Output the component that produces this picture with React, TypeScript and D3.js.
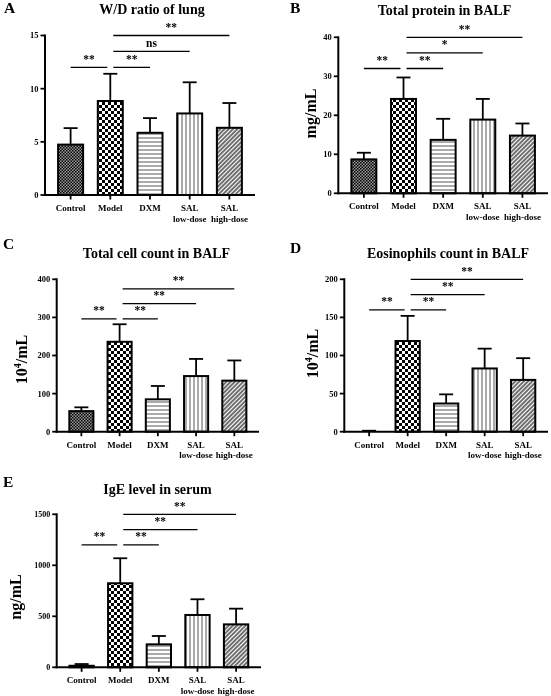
import React from "react";
import * as d3 from "d3";

// ---------- data ----------
const groups = ["Control", "Model", "DXM", "SAL low-dose", "SAL high-dose"];
const groupLabelLines = [["Control"], ["Model"], ["DXM"], ["SAL", "low-dose"], ["SAL", "high-dose"]];
const comparisons: [string, string][] = [
  ["Control", "Model"],
  ["Model", "DXM"],
  ["Model", "SAL low-dose"],
  ["Model", "SAL high-dose"],
];

const wdMean = [4.74, 8.84, 5.85, 7.67, 6.32];
const wdSD = [1.55, 2.56, 1.38, 2.93, 2.33];
const wdTicks = [0, 5, 10, 15];
const wdSigLabels = ["**", "**", "ns", "**"];
const wdSigLevels = [12, 12, 13.5, 15];

const proteinMean = [8.7, 24.2, 13.7, 18.9, 14.8];
const proteinSD = [1.7, 5.5, 5.4, 5.3, 3.1];
const proteinTicks = [0, 10, 20, 30, 40];
const proteinSigLabels = ["**", "**", "*", "**"];
const proteinSigLevels = [32, 32, 36, 40];

const cellMean = [54, 236, 85, 146, 134];
const cellSD = [10, 46, 35, 45, 53];
const cellTicks = [0, 100, 200, 300, 400];
const cellSigLabels = ["**", "**", "**", "**"];
const cellSigLevels = [296, 296, 336, 375];

const eosMean = [0.5, 119, 37, 83, 68];
const eosSD = [0.8, 33, 12, 26, 28.5];
const eosTicks = [0, 50, 100, 150, 200];
const eosSigLabels = ["**", "**", "**", "**"];
const eosSigLevels = [160, 160, 180, 200];

const igeMean = [15, 824, 225, 513, 421];
const igeSD = [17, 245, 82, 154, 154];
const igeTicks = [0, 500, 1000, 1500];
const igeSigLabels = ["**", "**", "**", "**"];
const igeSigLevels = [1200, 1200, 1350, 1500];

const patternIds = ["pat-control", "pat-model", "pat-dxm", "pat-sallow", "pat-salhigh"];

const FONT = "'Liberation Serif', 'Times New Roman', Times, serif";

type PanelProps = {
  letter: string;
  letterPos: [number, number];
  title: string;
  titlePos: [number, number];
  yLabel?: "mg" | "cells" | "ng" | null;
  yLabelPos?: [number, number];
  means: number[];
  sds: number[];
  ticks: number[];
  sigLabels: string[];
  sigLevels: number[];
  x0: number;
  x1: number;
  yBottom: number;
  yTop: number;
  tickFont?: number;
};

function Panel(p: PanelProps) {
  const max = p.ticks[p.ticks.length - 1];
  const x = d3.scaleBand<string>().domain(groups).range([p.x0, p.x1]).paddingInner(0.37).paddingOuter(0.33);
  const y = d3.scaleLinear().domain([0, max]).range([p.yBottom, p.yTop]);
  const bw = x.bandwidth();
  const cx = (g: string) => (x(g) as number) + bw / 2;
  const capHalf = 7;
  const tf = p.tickFont ?? 8.5;

  return (
    <g fontFamily={FONT} fontWeight="bold">
      <text x={p.letterPos[0]} y={p.letterPos[1]} fontSize={15.5} fill="#000">{p.letter}</text>
      <text x={p.titlePos[0]} y={p.titlePos[1]} fontSize={14} textAnchor="middle" fill="#000">{p.title}</text>
      {p.yLabel && p.yLabelPos && (
        <text
          transform={`translate(${p.yLabelPos[0]},${p.yLabelPos[1]}) rotate(-90)`}
          fontSize={16}
          textAnchor="middle"
          fill="#000"
        >
          {p.yLabel === "mg" && "mg/mL"}
          {p.yLabel === "ng" && "ng/mL"}
          {p.yLabel === "cells" && (
            <>
              <tspan>10</tspan>
              <tspan dy={-6} fontSize={10}>4</tspan>
              <tspan dy={6}>/mL</tspan>
            </>
          )}
        </text>
      )}

      {/* bars */}
      {groups.map((g, i) => {
        const top = y(p.means[i]);
        const h = p.yBottom - top;
        const errY = y(p.means[i] + p.sds[i]);
        return (
          <g key={g}>
            <line x1={cx(g)} x2={cx(g)} y1={top} y2={errY} stroke="#000" strokeWidth={1.8} />
            <line x1={cx(g) - capHalf} x2={cx(g) + capHalf} y1={errY} y2={errY} stroke="#000" strokeWidth={1.8} />
            {h >= 1 && (
              <rect
                x={x(g)}
                y={top}
                width={bw}
                height={h}
                fill={`url(#${patternIds[i]})`}
                stroke="#000"
                strokeWidth={2}
              />
            )}
          </g>
        );
      })}

      {/* axes */}
      <line x1={p.x0} x2={p.x0} y1={p.yTop - 1} y2={p.yBottom + 1} stroke="#000" strokeWidth={2} />
      <line x1={p.x0 - 1} x2={p.x1} y1={p.yBottom} y2={p.yBottom} stroke="#000" strokeWidth={2} />
      {p.ticks.map((t) => (
        <g key={t}>
          <line x1={p.x0 - 4.5} x2={p.x0} y1={y(t)} y2={y(t)} stroke="#000" strokeWidth={1.8} />
          <text x={p.x0 - 6.5} y={y(t)} dy="0.35em" fontSize={tf} textAnchor="end" fill="#000">
            {t}
          </text>
        </g>
      ))}
      {groups.map((g, i) => (
        <g key={g}>
          <line x1={cx(g)} x2={cx(g)} y1={p.yBottom} y2={p.yBottom + 4.5} stroke="#000" strokeWidth={1.8} />
          {groupLabelLines[i].map((ln, j) => (
            <text key={j} x={cx(g)} y={p.yBottom + 16 + j * 10.5} fontSize={9} textAnchor="middle" fill="#000">
              {ln}
            </text>
          ))}
        </g>
      ))}

      {/* significance */}
      {comparisons.map(([a, b], k) => {
        const xa = a === "Control" ? cx(a) : cx(a) + 3;
        const xb = a === "Control" ? cx(b) - 3 : cx(b);
        const ly = y(p.sigLevels[k]);
        return (
          <g key={k}>
            <line x1={xa} x2={xb} y1={ly} y2={ly} stroke="#000" strokeWidth={1.3} />
            <text x={(xa + xb) / 2} y={ly - 4.5} fontSize={11.5} textAnchor="middle" fill="#000">
              {p.sigLabels[k]}
            </text>
          </g>
        );
      })}
    </g>
  );
}

export default function App() {
  return (
    <svg
      width={551}
      height={696}
      viewBox="0 0 551 696"
      style={{ position: "absolute", left: 0, top: 0, background: "#fff" }}
    >
      <defs>
        <pattern id="pat-control" width={3} height={3} patternUnits="userSpaceOnUse">
          <rect width={3} height={3} fill="#9a9a9a" />
          <rect width={1.5} height={1.5} fill="#000" />
          <rect x={1.5} y={1.5} width={1.5} height={1.5} fill="#000" />
        </pattern>
        <pattern id="pat-model" width={6} height={6} patternUnits="userSpaceOnUse">
          <rect width={6} height={6} fill="#fff" />
          <rect width={3} height={3} fill="#000" />
          <rect x={3} y={3} width={3} height={3} fill="#000" />
        </pattern>
        <pattern id="pat-dxm" width={4} height={4} patternUnits="userSpaceOnUse">
          <rect width={4} height={4} fill="#fff" />
          <line x1={0} x2={4} y1={2} y2={2} stroke="#555" strokeWidth={1} />
        </pattern>
        <pattern id="pat-sallow" width={4} height={4} patternUnits="userSpaceOnUse">
          <rect width={4} height={4} fill="#fff" />
          <line x1={2} x2={2} y1={0} y2={4} stroke="#555" strokeWidth={1} />
        </pattern>
        <pattern id="pat-salhigh" width={3} height={3} patternUnits="userSpaceOnUse" patternTransform="rotate(45)">
          <rect width={3} height={3} fill="#fff" />
          <line x1={1} x2={1} y1={0} y2={3} stroke="#222" strokeWidth={1.3} />
        </pattern>
      </defs>
      <rect width={551} height={696} fill="#fff" />

      <g opacity={0.999}>
        <Panel
          letter="A"
          letterPos={[4, 12.5]}
          title="W/D ratio of lung"
          titlePos={[152, 13.5]}
          yLabel={null}
          means={wdMean}
          sds={wdSD}
          ticks={wdTicks}
          sigLabels={wdSigLabels}
          sigLevels={wdSigLevels}
          x0={45}
          x1={255}
          yBottom={195}
          yTop={35.5}
        />
        <Panel
          letter="B"
          letterPos={[290, 13]}
          title="Total protein in BALF"
          titlePos={[444.5, 15]}
          yLabel="mg"
          yLabelPos={[316, 113.5]}
          means={proteinMean}
          sds={proteinSD}
          ticks={proteinTicks}
          sigLabels={proteinSigLabels}
          sigLevels={proteinSigLevels}
          x0={338.3}
          x1={548}
          yBottom={193.3}
          yTop={37.3}
        />
        <Panel
          letter="C"
          letterPos={[3, 249]}
          title="Total cell count in BALF"
          titlePos={[156.5, 258.3]}
          yLabel="cells"
          yLabelPos={[27, 359.5]}
          means={cellMean}
          sds={cellSD}
          ticks={cellTicks}
          sigLabels={cellSigLabels}
          sigLevels={cellSigLevels}
          x0={56.7}
          x1={259}
          yBottom={431.7}
          yTop={279.3}
        />
        <Panel
          letter="D"
          letterPos={[290, 253]}
          title="Eosinophils count in BALF"
          titlePos={[448, 257.7]}
          yLabel="cells"
          yLabelPos={[318, 353.5]}
          means={eosMean}
          sds={eosSD}
          ticks={eosTicks}
          sigLabels={eosSigLabels}
          sigLevels={eosSigLevels}
          x0={344.3}
          x1={548}
          yBottom={431.7}
          yTop={279.3}
        />
        <Panel
          letter="E"
          letterPos={[3, 487]}
          title="IgE level in serum"
          titlePos={[157.5, 494.3]}
          yLabel="ng"
          yLabelPos={[21, 597]}
          means={igeMean}
          sds={igeSD}
          ticks={igeTicks}
          sigLabels={igeSigLabels}
          sigLevels={igeSigLevels}
          x0={56.7}
          x1={261}
          yBottom={667.3}
          yTop={514.3}
          tickFont={8}
        />
      </g>
    </svg>
  );
}
